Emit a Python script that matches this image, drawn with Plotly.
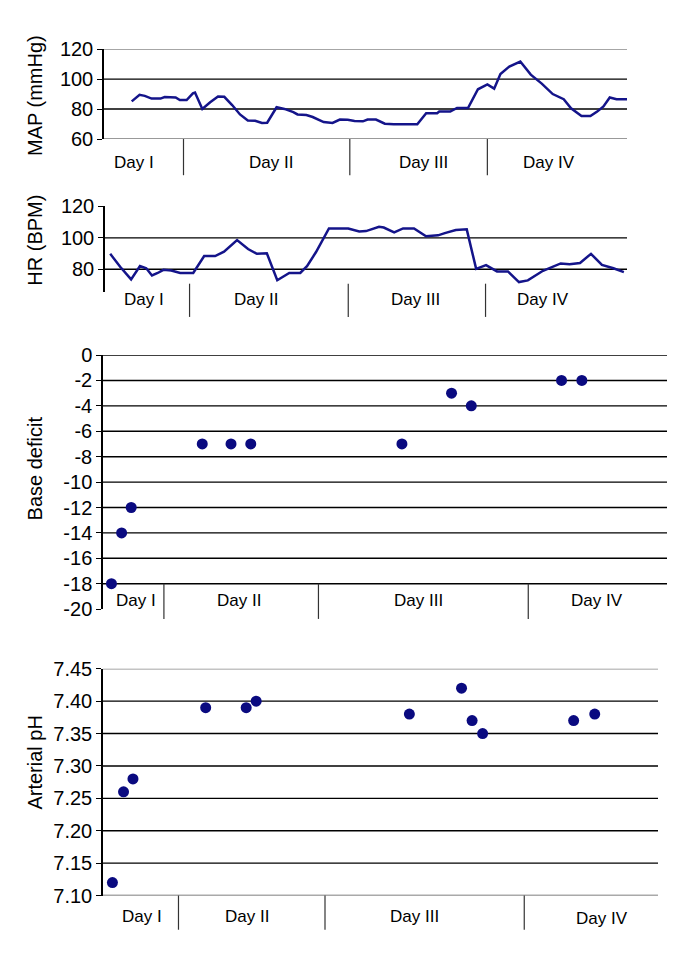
import plotly.graph_objects as go

W, H = 685, 972

# ---------------- data ----------------
DAY_LABELS = ["Day I", "Day II", "Day III", "Day IV"]

# MAP panel (x in relative time units 0..100)
MAP_X = [5.3, 6.8, 7.8, 9.1, 10.8, 11.6, 13.7, 14.5, 15.8, 17.0, 17.4, 18.8, 20.3, 21.8, 23.0, 24.5, 26.0,
         27.5, 28.9, 30.2, 31.2, 33.0, 34.5, 36.2, 37.0, 38.7, 39.9, 42.0, 43.7, 45.1, 46.6, 47.9, 49.5,
         50.4, 52.0, 53.7, 55.4, 59.9, 61.6, 63.7, 64.1, 66.2, 67.5, 69.6, 71.5, 73.3, 74.6, 75.8, 77.5,
         79.6, 81.6, 83.7, 85.8, 87.9, 89.3, 91.3, 93.0, 94.3, 95.5, 96.7, 98.0, 100.0]
MAP_Y = [85.1, 89.5, 88.8, 87.0, 87.0, 88.0, 87.7, 86.0, 86.0, 90.5, 91.0, 80.0, 84.5, 88.4, 88.2, 82.7, 76.4,
         72.4, 72.2, 70.7, 70.9, 81.2, 80.1, 78.0, 76.4, 76.0, 74.7, 71.3, 70.7, 73.0, 72.8, 72.0, 71.8,
         73.0, 73.0, 70.2, 69.8, 69.8, 77.2, 77.2, 78.3, 78.3, 80.7, 80.7, 93.2, 96.4, 93.6, 103.4, 108.4,
         111.7, 103.0, 97.0, 90.0, 86.6, 80.5, 75.3, 75.3, 78.3, 81.8, 87.7, 86.6, 86.6]

# HR panel
HR_X = [1.0, 2.9, 5.0, 6.7, 7.9, 9.0, 10.1, 11.2, 12.7, 14.4, 16.9, 19.0, 21.1, 22.8, 25.3, 27.4, 29.1,
        31.0, 33.0, 35.3, 37.4, 38.7, 40.4, 42.9, 46.6, 48.7, 50.0, 52.5, 53.4, 55.4, 57.1, 59.2, 61.5,
        63.8, 65.1, 67.2, 69.3, 71.1, 73.0, 75.1, 77.2, 79.3, 81.0, 83.9, 87.3, 89.0, 91.0, 93.1, 95.2, 97.4, 99.4]
HR_Y = [89.8, 81.6, 73.5, 82.0, 80.6, 76.0, 77.6, 79.6, 79.2, 77.6, 77.6, 88.4, 88.4, 91.2, 98.6, 92.9, 89.8,
        90.2, 73.0, 77.6, 77.6, 82.0, 90.8, 106.0, 106.0, 104.0, 104.3, 107.0, 106.6, 103.5, 106.0, 106.0, 101.0,
        101.6, 103.0, 105.0, 105.4, 80.2, 82.6, 78.6, 78.6, 71.8, 72.9, 79.0, 83.7, 83.1, 84.0, 89.8, 82.7, 80.6, 78.2]

# Base deficit
BD_X = [1.5, 3.3, 5.0, 17.6, 22.7, 26.2, 53.0, 61.8, 65.3, 81.3, 84.9]
BD_Y = [-18, -14, -12, -7, -7, -7, -7, -3, -4, -2, -2]

# Arterial pH
PH_X = [1.7, 3.7, 5.4, 18.5, 25.8, 27.6, 55.2, 64.6, 66.5, 68.4, 84.8, 88.6]
PH_Y = [7.12, 7.26, 7.28, 7.39, 7.39, 7.40, 7.38, 7.42, 7.37, 7.35, 7.37, 7.38]

# day boundaries and label centres for each panel
MAP_BOUNDS = [15.2, 47.0, 73.3]
MAP_LABEL_X = [5.8, 32.0, 61.0, 85.0]
HR_BOUNDS = [16.2, 46.6, 72.9]
HR_LABEL_X = [7.5, 29.0, 59.5, 84.0]
BD_BOUNDS = [10.8, 38.2, 75.4]
BD_LABEL_X = [5.8, 24.2, 55.9, 87.6]
PH_BOUNDS = [13.6, 40.0, 75.9]
PH_LABEL_X = [7.1, 25.9, 56.1, 89.9]

MAP_TICKS = [60, 80, 100, 120]
HR_TICKS = [80, 100, 120]
BD_TICKS = list(range(0, -21, -2))
PH_TICKS = [7.10, 7.15, 7.20, 7.25, 7.30, 7.35, 7.40, 7.45]

# ---------------- layout helpers ----------------
NAVY = "#14148a"
FONT = "Liberation Sans, Arial, sans-serif"

fig = go.Figure()
shapes, annots = [], []


def px_x(p):
    return p / W


def px_y(p):
    return 1 - p / H


panels = [
    dict(n=1, x0=104, x1=627, yt=39, yb=131, rng=[60, 120], ticks=MAP_TICKS, fmt="{:d}",
         bounds=MAP_BOUNDS, lx=MAP_LABEL_X, ly=[155] * 4, sep_top=131, sep_bot=168,
         title="MAP (mmHg)", ty=87, grid={60: "#777777", 80: "black", 100: "black", 120: "#888888"}),
    dict(n=2, x0=105, x1=627, yt=200, yb=287, rng=[65.8, 120], ticks=HR_TICKS, fmt="{:d}",
         bounds=HR_BOUNDS, lx=HR_LABEL_X, ly=[295] * 4, sep_top=279, sep_bot=313,
         title="HR (BPM)", ty=235, grid={80: "black", 100: "black"}),
    dict(n=3, x0=103, x1=667, yt=352, yb=612, rng=[-20, 0], ticks=BD_TICKS, fmt="{:d}",
         bounds=BD_BOUNDS, lx=BD_LABEL_X, ly=[603] * 4, sep_top=586, sep_bot=622,
         title="Base deficit", ty=468, grid={v: "black" for v in BD_TICKS if v != -20}),
    dict(n=4, x0=103, x1=658, yt=673, yb=905, rng=[7.10, 7.45], ticks=PH_TICKS, fmt="{:.2f}",
         bounds=PH_BOUNDS, lx=PH_LABEL_X, ly=[926, 926, 926, 929], sep_top=905, sep_bot=940,
         title="Arterial pH", ty=769,
         grid={**{v: "black" for v in PH_TICKS if v not in (7.45, 7.10)}, 7.45: "#888888", 7.10: "#555555"}),
]

for p in panels:
    n = p["n"]
    xa = "xaxis" if n == 1 else f"xaxis{n}"
    ya = "yaxis" if n == 1 else f"yaxis{n}"
    xr = "x" if n == 1 else f"x{n}"
    yr = "y" if n == 1 else f"y{n}"
    fig.layout[xa] = dict(domain=[px_x(p["x0"]), px_x(p["x1"])], range=[0, 100], visible=False,
                          anchor=yr, fixedrange=True)
    fig.layout[ya] = dict(domain=[px_y(p["yb"]), px_y(p["yt"])], range=p["rng"], anchor=xr,
                          tickvals=p["ticks"], ticktext=[p["fmt"].format(v) for v in p["ticks"]],
                          ticks="outside", ticklen=5, tickcolor="black", tickwidth=1,
                          showline=True, linecolor="black", linewidth=1.5,
                          showgrid=False, zeroline=False, fixedrange=True,
                          tickfont=dict(family=FONT, size=20, color="black"))
    for v, c in p["grid"].items():
        shapes.append(dict(type="line", xref=f"{xr} domain", yref=yr, x0=0, x1=1, y0=v, y1=v,
                           line=dict(color=c, width=1.4), layer="below"))
    for b in p["bounds"]:
        shapes.append(dict(type="line", xref=xr, yref="paper", x0=b, x1=b,
                           y0=px_y(p["sep_top"]), y1=px_y(p["sep_bot"]),
                           line=dict(color="#333333", width=1.2)))
    for lbl, lx, ly in zip(DAY_LABELS, p["lx"], p["ly"]):
        annots.append(dict(text=lbl, xref=xr, yref="paper", x=lx, y=px_y(ly), showarrow=False,
                           xanchor="center", yanchor="middle",
                           font=dict(family=FONT, size=17, color="black")))
    annots.append(dict(text=p["title"], xref="paper", yref="paper", x=px_x(35), y=px_y(p["ty"]),
                       textangle=-90, showarrow=False, xanchor="center", yanchor="middle",
                       font=dict(family=FONT, size=20, color="black")))

fig.add_trace(go.Scatter(x=MAP_X, y=MAP_Y, mode="lines", line=dict(color=NAVY, width=2.5),
                         xaxis="x", yaxis="y", showlegend=False, hoverinfo="skip"))
fig.add_trace(go.Scatter(x=HR_X, y=HR_Y, mode="lines", line=dict(color=NAVY, width=2.5),
                         xaxis="x2", yaxis="y2", showlegend=False, hoverinfo="skip"))
fig.add_trace(go.Scatter(x=BD_X, y=BD_Y, mode="markers",
                         marker=dict(color="#0a0a80", size=11, symbol="circle"),
                         xaxis="x3", yaxis="y3", showlegend=False, cliponaxis=False, hoverinfo="skip"))
fig.add_trace(go.Scatter(x=PH_X, y=PH_Y, mode="markers",
                         marker=dict(color="#0a0a80", size=11, symbol="circle"),
                         xaxis="x4", yaxis="y4", showlegend=False, cliponaxis=False, hoverinfo="skip"))

fig.update_layout(width=W, height=H, autosize=False, margin=dict(l=0, r=0, t=0, b=0),
                  paper_bgcolor="white", plot_bgcolor="white", shapes=shapes, annotations=annots,
                  showlegend=False)

fig.write_html("out.html", config={"displayModeBar": False},
               post_script="document.body.style.margin='0';document.body.style.overflow='hidden';")
